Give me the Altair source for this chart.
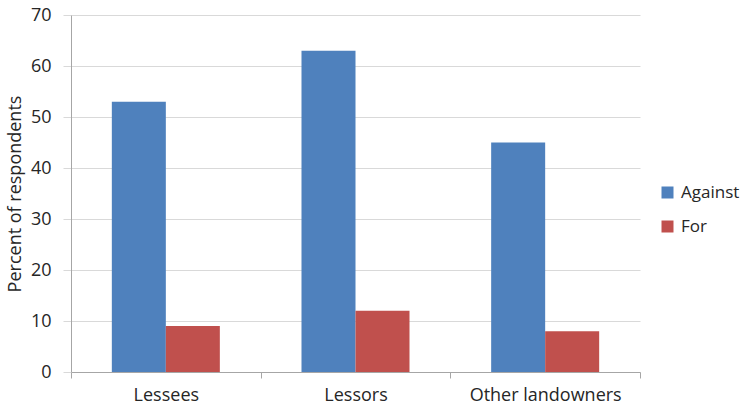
import altair as alt
import pandas as pd

groups = ["Lessees", "Lessors", "Other landowners"]
stances = ["Against", "For"]
against = [53, 63, 45]
for_vals = [9, 12, 8]

rows = []
for g, a, f in zip(groups, against, for_vals):
    rows.append({"group": g, "stance": "Against", "pct": a})
    rows.append({"group": g, "stance": "For", "pct": f})
df = pd.DataFrame(rows)

font = "Open Sans"
text_color = "#262626"
grid_color = "#d9d9d9"

chart = (
    alt.Chart(df)
    .mark_bar()
    .encode(
        x=alt.X(
            "group:N",
            sort=groups,
            title=None,
            scale=alt.Scale(paddingInner=0, paddingOuter=0),
            axis=alt.Axis(
                labelAngle=0,
                labelFontSize=18,
                labelPadding=8,
                tickBand="extent",
                tickSize=6,
                tickColor="#a6a6a6",
                domainColor="#a6a6a6",
                grid=False,
            ),
        ),
        xOffset=alt.XOffset(
            "stance:N", sort=stances, scale=alt.Scale(paddingInner=0, paddingOuter=0.756)
        ),
        y=alt.Y(
            "pct:Q",
            title="Percent of respondents",
            scale=alt.Scale(domain=[0, 70], nice=False),
            axis=alt.Axis(
                values=list(range(0, 71, 10)),
                labelFontSize=18,
                titleFontSize=18,
                titleFontWeight="normal",
                titlePadding=6,
                tickSize=8,
                tickColor=grid_color,
                gridColor=grid_color,
                domainColor="#a6a6a6",
                labelPadding=12,
            ),
        ),
        color=alt.Color(
            "stance:N",
            sort=stances,
            scale=alt.Scale(domain=stances, range=["#4f81bd", "#c0504d"]),
            legend=alt.Legend(
                title=None,
                orient="none",
                legendX=588,
                legendY=169,
                symbolType="square",
                symbolSize=144,
                labelFontSize=17,
                rowPadding=16,
                labelOffset=5,
            ),
        ),
    )
    .properties(width=569, height=357)
    .configure(
        font=font,
        autosize=alt.AutoSizeParams(type="none"),
        padding={"left": 71, "top": 15, "right": 102, "bottom": 38},
    )
    .configure_axis(labelColor=text_color, titleColor=text_color, labelFont=font, titleFont=font)
    .configure_legend(labelColor=text_color, labelFont=font)
    .configure_view(stroke=None)
)

chart.save("out.html", embed_options={"renderer": "svg", "actions": False})
